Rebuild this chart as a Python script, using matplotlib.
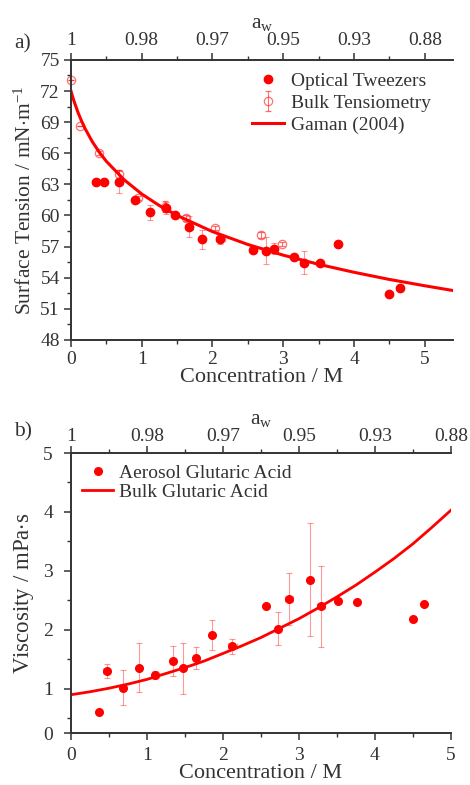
import matplotlib
matplotlib.use("Agg")
import matplotlib.pyplot as plt

plt.rcParams['font.family'] = ['Liberation Serif', 'DejaVu Serif']
plt.rcParams['mathtext.fontset'] = 'custom'
plt.rcParams['mathtext.rm'] = 'Liberation Serif'
plt.rcParams['mathtext.it'] = 'Liberation Serif:italic'

RED = '#ff0000'
INK = '#333333'

# Panel a) surface tension
ot_conc = [0.36, 0.47, 0.68, 0.91, 1.11, 1.35, 1.47, 1.67, 1.85, 2.11,
           2.57, 2.75, 2.87, 3.15, 3.29, 3.52, 3.78, 4.50, 4.65]
ot_st = [63.2, 63.2, 63.2, 61.5, 60.3, 60.7, 60.0, 58.9, 57.7, 57.7,
         56.7, 56.6, 56.8, 56.0, 55.45, 55.4, 57.2, 52.45, 53.0]
ot_err = [0, 0, 1.05, 0.3, 0.7, 0.6, 0.2, 1.0, 0.9, 0.5,
          0.2, 1.3, 0.5, 0.2, 1.1, 0.2, 0, 0, 0]
ot_xerr = [0, 0, 0.06, 0.05, 0.04, 0.05, 0.03, 0.06, 0.04, 0.06,
           0.03, 0.05, 0.04, 0.03, 0.05, 0.03, 0, 0, 0]

bt_conc = [0.0, 0.13, 0.40, 0.68, 0.95, 1.33, 1.62, 2.04, 2.68, 2.98]
bt_st = [73.1, 68.6, 66.05, 64.0, 61.7, 60.85, 59.75, 58.75, 58.15, 57.25]
bt_err = [0, 0, 0.2, 0.4, 0.2, 0.5, 0.3, 0.2, 0.3, 0.2]

gaman_conc = [0, 0.025, 0.05, 0.1, 0.15, 0.2, 0.3, 0.4, 0.5, 0.75, 1.0, 1.25,
              1.5, 2.0, 2.5, 3.0, 3.5, 4.0, 4.5, 5.0, 5.4]
gaman_st = [72.0, 71.41, 70.88, 69.92, 69.1, 68.37, 67.13, 66.10, 65.22, 63.45,
            62.07, 60.95, 60.0, 58.44, 57.2, 56.17, 55.29, 54.52, 53.83, 53.22, 52.76]

# Panel b) viscosity
ae_conc = [0.37, 0.47, 0.68, 0.90, 1.11, 1.34, 1.48, 1.64, 1.85, 2.12,
           2.57, 2.73, 2.87, 3.15, 3.29, 3.52, 3.77, 4.50, 4.65]
ae_visc = [0.60, 1.30, 1.02, 1.36, 1.23, 1.47, 1.35, 1.52, 1.91, 1.72,
           2.41, 2.02, 2.52, 2.85, 2.40, 2.49, 2.48, 2.19, 2.44]
ae_err = [0, 0.12, 0.30, 0.42, 0.07, 0.26, 0.43, 0.19, 0.25, 0.13,
          0, 0.28, 0.44, 0.96, 0.69, 0, 0, 0, 0]
ae_xerr = [0, 0.05, 0.04, 0.03, 0.05, 0.04, 0.03, 0.03, 0.03, 0.06,
           0, 0.04, 0.05, 0.03, 0.05, 0, 0, 0, 0]

bulk_conc = [0, 0.25, 0.5, 0.75, 1.0, 1.25, 1.5, 1.75, 2.0, 2.25, 2.5,
             2.75, 3.0, 3.25, 3.5, 3.75, 4.0, 4.25, 4.5, 4.75, 5.0]
bulk_visc = [0.90, 0.95, 1.01, 1.08, 1.16, 1.26, 1.36, 1.47, 1.60, 1.73, 1.87,
             2.03, 2.19, 2.37, 2.56, 2.76, 2.98, 3.21, 3.46, 3.74, 4.03]

aw_ticks = [0, 1, 2, 3, 4, 5]
aw_labels = ['1', '0.98', '0.97', '0.95', '0.93', '0.88']


def style_axis(ax, ypad):
    ax.spines['right'].set_visible(False)
    for s in ax.spines.values():
        s.set_color(INK)
        s.set_linewidth(1.2)
    ax.tick_params(which='major', direction='out', length=5, width=1.1,
                   colors=INK, labelsize=14, labelcolor=INK)
    ax.tick_params(which='minor', direction='out', length=3, width=1.0, colors=INK)
    ax.tick_params(axis='y', pad=ypad)
    ax.tick_params(right=False, which='both')


def add_top(ax, xlim, pad):
    top = ax.twiny()
    top.set_xlim(xlim)
    top.set_xticks(aw_ticks)
    top.set_xticklabels(aw_labels)
    top.set_xticks([0.5, 1.5, 2.5, 3.5, 4.5], minor=True)
    top.spines['right'].set_visible(False)
    for s in top.spines.values():
        s.set_color(INK)
        s.set_linewidth(1.2)
    top.tick_params(which='major', direction='out', length=5, width=1.1,
                    colors=INK, labelsize=14, labelcolor=INK, pad=pad)
    top.tick_params(which='minor', direction='out', length=3, width=1.0, colors=INK)
    top.set_xlabel(r'a$_\mathrm{w}$', fontsize=15.5, color=INK, labelpad=3)
    return top


fig = plt.figure(figsize=(4.7, 7.85), dpi=100)

# ---- panel a ----
ax1 = fig.add_axes([0.151, 0.567, 0.813, 0.3567])
ax1.errorbar(bt_conc, bt_st, yerr=bt_err, fmt='o', ms=6, mfc='none',
             mec=RED, mew=0.9, alpha=0.55, ecolor=RED, elinewidth=0.8,
             capsize=2.5, capthick=0.8, label='Bulk Tensiometry', zorder=2,
             clip_on=False)
ax1.errorbar(ot_conc, ot_st, yerr=ot_err, xerr=ot_xerr, fmt='none',
             ecolor=RED, elinewidth=0.8, capsize=2.5, capthick=0.8, alpha=0.4, zorder=2)
ax1.plot(ot_conc, ot_st, 'o', ms=6, color=RED, label='Optical Tweezers', zorder=3)
ax1.plot(gaman_conc, gaman_st, '-', color=RED, lw=2.2, label='Gaman (2004)', zorder=4)

ax1.set_xlim(0, 5.4)
ax1.set_ylim(48, 75)
ax1.set_xticks([0, 1, 2, 3, 4, 5])
ax1.set_xticks([0.5, 1.5, 2.5, 3.5, 4.5], minor=True)
ax1.set_yticks([48, 51, 54, 57, 60, 63, 66, 69, 72, 75])
ax1.set_yticks([49.5, 52.5, 55.5, 58.5, 61.5, 64.5, 67.5, 70.5, 73.5], minor=True)
style_axis(ax1, 3)
ax1.tick_params(axis='x', pad=3)
ax1.set_xlabel('Concentration / M', fontsize=16, color=INK, labelpad=0)
ax1.set_ylabel(r'Surface Tension / mN$\cdot$m$^{\mathrm{-1}}$', fontsize=15.5,
               color=INK, labelpad=3)
add_top(ax1, (0, 5.4), 3)

h, l = ax1.get_legend_handles_labels()
order = [l.index('Optical Tweezers'), l.index('Bulk Tensiometry'), l.index('Gaman (2004)')]
leg1 = ax1.legend([h[i] for i in order], [l[i] for i in order], loc='upper left',
                  bbox_to_anchor=(0.475, 0.955), frameon=False, fontsize=14,
                  handlelength=1.6, handletextpad=0.4, labelspacing=0.22,
                  borderpad=0, borderaxespad=0)
for t in leg1.get_texts():
    t.set_color(INK)
fig.text(0.03, 0.944, 'a)', fontsize=15.5, color=INK, va='center')

# ---- panel b ----
ax2 = fig.add_axes([0.151, 0.0662, 0.8085, 0.3567])
ax2.errorbar(ae_conc, ae_visc, yerr=ae_err, xerr=ae_xerr, fmt='none',
             ecolor=RED, elinewidth=0.8, capsize=2.5, capthick=0.8, alpha=0.4, zorder=2)
ax2.plot(ae_conc, ae_visc, 'o', ms=5.5, color=RED, label='Aerosol Glutaric Acid', zorder=3)
ax2.plot(bulk_conc, bulk_visc, '-', color=RED, lw=2.0, label='Bulk Glutaric Acid', zorder=4)

ax2.set_xlim(0, 5)
ax2.set_ylim(0.25, 5)
ax2.set_xticks([0, 1, 2, 3, 4, 5])
ax2.set_xticks([0.5, 1.5, 2.5, 3.5, 4.5], minor=True)
ax2.set_yticks([0.25, 1, 2, 3, 4, 5])
ax2.set_yticklabels(['0', '1', '2', '3', '4', '5'])
ax2.set_yticks([0.5, 1.5, 2.5, 3.5, 4.5], minor=True)
style_axis(ax2, 8)
ax2.tick_params(axis='x', pad=5)
ax2.set_xlabel('Concentration / M', fontsize=16, color=INK, labelpad=0)
ax2.set_ylabel(r'Viscosity / mPa$\cdot$s', fontsize=16.5, color=INK, labelpad=5)
add_top(ax2, (0, 5), 1)

leg2 = ax2.legend(loc='upper left', bbox_to_anchor=(0.03, 0.96), frameon=False,
                  fontsize=14, handlelength=1.6, handletextpad=0.3, labelspacing=0.08,
                  borderpad=0, borderaxespad=0)
for t in leg2.get_texts():
    t.set_color(INK)
fig.text(0.03, 0.45, 'b)', fontsize=15.5, color=INK, va='center')

fig.savefig('out.png', dpi=100)
